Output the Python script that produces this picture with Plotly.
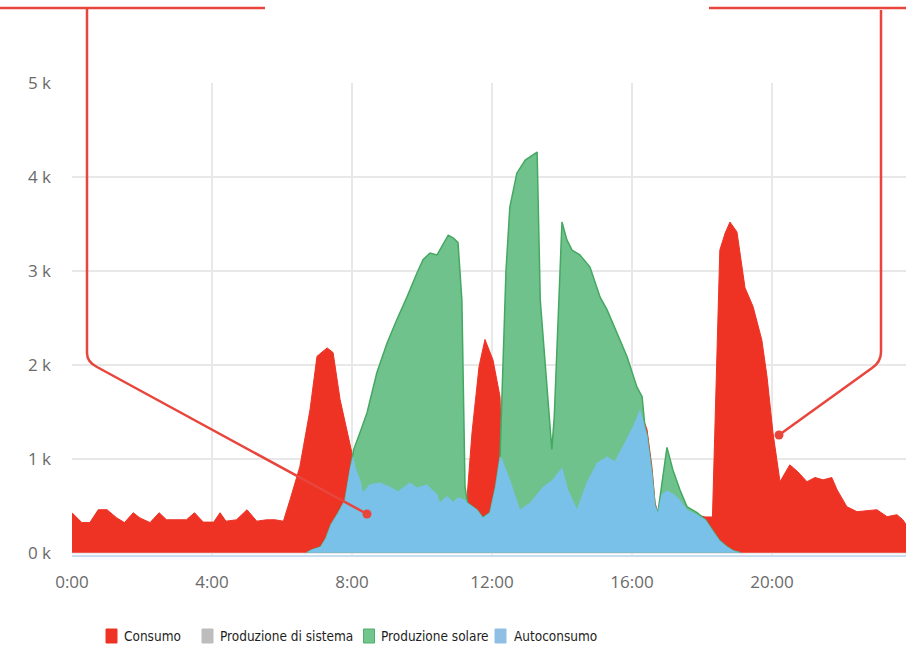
import plotly.graph_objects as go

# ---------------- data (hours of day, watts) ----------------
hour_ticks = [0, 4, 8, 12, 16, 20]
hour_labels = ["0:00", "4:00", "8:00", "12:00", "16:00", "20:00"]
power_ticks = [0, 1000, 2000, 3000, 4000, 5000]
power_labels = ["0 k", "1 k", "2 k", "3 k", "4 k", "5 k"]

series_names = ["Consumo", "Produzione di sistema", "Produzione solare", "Autoconsumo"]

consumo_h = [0.0, 0.28, 0.51, 0.75, 1.0, 1.28, 1.5, 1.75, 1.94, 2.23, 2.49, 2.7, 3.27, 3.5,
             3.75, 4.05, 4.23, 4.4, 4.7, 5.0, 5.28, 5.56, 5.8, 6.04, 6.23, 6.51, 6.8, 7.0,
             7.29, 7.46, 7.66, 7.86, 8.0, 8.1, 8.23, 8.31, 8.51, 8.8, 9.09, 9.31, 9.66, 9.86,
             10.14, 10.43, 10.51, 10.71, 10.89, 11.03, 11.23, 11.29, 11.43, 11.63, 11.8, 12.03,
             12.15, 12.23, 12.28, 12.51, 12.8, 13.09, 13.46, 13.74, 14.0, 14.17, 14.43, 14.71,
             15.0, 15.29, 15.51, 15.74, 16.03, 16.23, 16.43, 16.57, 16.66, 16.74, 16.85, 17.0,
             17.2, 17.37, 17.57, 17.86, 18.1, 18.3, 18.51, 18.66, 18.8, 19.0, 19.23, 19.46,
             19.71, 19.86, 20.03, 20.23, 20.51, 20.74, 21.0, 21.23, 21.46, 21.71, 21.86, 22.14,
             22.43, 23.0, 23.29, 23.57, 23.74, 23.83]
consumo_w = [425, 320, 320, 457, 457, 370, 320, 425, 370, 320, 425, 350, 350, 425,
             325, 325, 425, 335, 350, 457, 335, 350, 350, 335, 564, 915, 1520, 2090,
             2180, 2130, 1630, 1280, 1060, 900, 775, 640, 725, 745, 700, 650, 745, 690,
             725, 620, 530, 600, 540, 585, 564, 600, 1280, 1980, 2270, 2050,
             1800, 1660, 1000, 775, 457, 530, 700, 775, 905, 670, 457, 745,
             955, 1020, 970, 1130, 1340, 1520, 1310, 915, 530, 425, 620, 660,
             620, 560, 457, 400, 380, 380, 3220, 3400, 3520, 3415, 2820, 2620,
             2265, 1870, 1275, 755, 935, 860, 755, 800, 775, 800, 670, 490,
             436, 457, 383, 404, 350, 300]

sistema_h = [0.0, 23.83]
sistema_w = [0, 0]

solare_h = [6.7, 6.85, 7.1, 7.25, 7.4, 7.6, 7.8, 7.95, 8.05, 8.23, 8.43, 8.71, 9.0, 9.28,
            9.57, 9.86, 10.03, 10.23, 10.43, 10.75, 10.9, 11.03, 11.14, 11.23, 11.3, 11.57,
            11.74, 11.94, 12.1, 12.23, 12.3, 12.4, 12.51, 12.71, 12.95, 13.29, 13.38, 13.57,
            13.71, 13.78, 13.9, 14.0, 14.14, 14.29, 14.51, 14.8, 15.09, 15.29, 15.57, 15.86,
            16.14, 16.29, 16.37, 16.43, 16.57, 16.66, 16.74, 17.0, 17.17, 17.37, 17.57, 17.86,
            18.1, 18.31, 18.5, 18.71, 18.9, 19.1]
solare_w = [0, 30, 60, 150, 300, 420, 560, 900, 1100, 1280, 1490, 1915, 2230, 2480,
            2720, 2980, 3120, 3190, 3170, 3380, 3350, 3300, 2690, 700, 530, 457,
            372, 425, 700, 1020, 1800, 3000, 3680, 4040, 4180, 4265, 2690, 1810,
            1100, 1450, 2700, 3520, 3330, 3220, 3170, 3040, 2720, 2585, 2340, 2085,
            1765, 1660, 1340, 1250, 850, 500, 425, 1120, 880, 670, 490, 425,
            350, 230, 130, 64, 20, 0]

auto_h = [6.7, 6.85, 7.1, 7.25, 7.4, 7.6, 7.8, 7.95, 8.03, 8.1, 8.23, 8.31, 8.51, 8.8,
          9.09, 9.31, 9.66, 9.86, 10.14, 10.43, 10.51, 10.71, 10.89, 11.03, 11.23, 11.29,
          11.57, 11.74, 11.94, 12.1, 12.23, 12.28, 12.51, 12.8, 13.09, 13.46, 13.74, 14.0,
          14.17, 14.43, 14.71, 15.0, 15.29, 15.51, 15.74, 16.03, 16.23, 16.37, 16.43, 16.57,
          16.66, 16.74, 16.85, 17.0, 17.2, 17.37, 17.57, 17.86, 18.1, 18.31, 18.5, 18.71,
          18.9, 19.1]
auto_w = [0, 30, 60, 150, 300, 420, 560, 900, 1020, 900, 775, 640, 725, 745,
          700, 650, 745, 690, 725, 620, 530, 600, 540, 585, 564, 530,
          457, 372, 425, 700, 1020, 1000, 775, 457, 530, 700, 775, 905,
          670, 457, 745, 955, 1020, 970, 1130, 1340, 1520, 1340, 1250, 850,
          500, 425, 620, 660, 620, 560, 457, 400, 350, 230, 130, 64,
          20, 0]

# ---------------- styling ----------------
W, H = 906, 647
ML, MR, MT, MB = 72, 0, 83, 92
RED = "#ee3224"
GREY = "#bdbdbd"
GREEN_FILL = "#6fc28c"
GREEN_LINE = "#45a862"
BLUE = "#7ac1ea"
CALLOUT = "#e8463c"


def xp(px):
    return (px - ML) / (W - ML - MR)


def yp(py):
    return (H - MB - py) / (H - MT - MB)


fig = go.Figure()
fig.add_trace(go.Scatter(x=consumo_h, y=consumo_w, name=series_names[0], mode="lines",
                         fill="tozeroy", fillcolor=RED, line=dict(color=RED, width=1),
                         showlegend=False))
fig.add_trace(go.Scatter(x=sistema_h, y=sistema_w, name=series_names[1], mode="lines",
                         fill="tozeroy", fillcolor=GREY, line=dict(color=GREY, width=0),
                         showlegend=False))
fig.add_trace(go.Scatter(x=solare_h, y=solare_w, name=series_names[2], mode="lines",
                         fill="tozeroy", fillcolor=GREEN_FILL,
                         line=dict(color=GREEN_LINE, width=1.5), showlegend=False))
fig.add_trace(go.Scatter(x=auto_h, y=auto_w, name=series_names[3], mode="lines",
                         fill="tozeroy", fillcolor=BLUE, line=dict(color=BLUE, width=0.5),
                         showlegend=False))

shapes = []


def path(points):
    s = ""
    for i, p in enumerate(points):
        if p[0] == "Q":
            s += f" Q {xp(p[1])},{yp(p[2])} {xp(p[3])},{yp(p[4])}"
        else:
            cmd = "M" if i == 0 else "L"
            s += f" {cmd} {xp(p[0])},{yp(p[1])}"
    return s.strip()


line_style = dict(color=CALLOUT, width=2.5)
shapes.append(dict(type="path", xref="paper", yref="paper", line=line_style,
                   path=path([(0, 8), (265, 8)])))
shapes.append(dict(type="path", xref="paper", yref="paper", line=line_style,
                   path=path([(87, 8), (87, 353), ("Q", 87, 362, 97, 367), (367, 514)])))
shapes.append(dict(type="path", xref="paper", yref="paper", line=line_style,
                   path=path([(709, 8), (906, 8)])))
shapes.append(dict(type="path", xref="paper", yref="paper", line=line_style,
                   path=path([(881, 10), (881, 352), ("Q", 881, 362, 872, 368), (779, 435)])))
for cx, cy in [(367, 514), (779, 435)]:
    r = 4.5
    shapes.append(dict(type="circle", xref="paper", yref="paper",
                       x0=xp(cx - r), x1=xp(cx + r), y0=yp(cy + r), y1=yp(cy - r),
                       fillcolor=CALLOUT, line=dict(width=0)))

# manual legend (swatch + label)
legend_sw = [(106, RED, RED), (202, GREY, GREY), (363.5, "#72c58d", "#4fae69"), (495, "#8fbfe4", "#8fbfe4")]
legend_tx = [123, 219, 380, 513]
annotations = []
for (sx, fc, lc), tx, name in zip(legend_sw, legend_tx, series_names):
    shapes.append(dict(type="rect", xref="paper", yref="paper",
                       x0=xp(sx), x1=xp(sx + 11), y0=yp(643), y1=yp(629),
                       fillcolor=fc, line=dict(color=lc, width=1)))
    annotations.append(dict(text=name, xref="paper", yref="paper", x=xp(tx - 1), y=yp(636),
                            xanchor="left", yanchor="middle", showarrow=False,
                            font=dict(family="DejaVu Sans Condensed, Liberation Sans Narrow, sans-serif",
                                      size=13.5, color="#1e1e1e")))

tick_font = dict(family="Open Sans, Noto Sans, sans-serif", size=17, color="#6a6a6a")
fig.update_layout(
    width=W, height=H,
    margin=dict(l=ML, r=MR, t=MT, b=MB, pad=0),
    paper_bgcolor="white", plot_bgcolor="white",
    shapes=shapes, annotations=annotations,
    showlegend=False,
    xaxis=dict(range=[0, 23.83], tickvals=hour_ticks, ticktext=hour_labels,
               showgrid=True, gridcolor="#e8e8e8", gridwidth=1.5, zeroline=False,
               showline=True, linecolor="#c8dcee", linewidth=2, ticks="",
               ticklabelstandoff=11, tickfont=tick_font),
    yaxis=dict(range=[-25, 5000], tickvals=power_ticks, ticktext=power_labels,
               showgrid=True, gridcolor="#e8e8e8", gridwidth=1.5, zeroline=False,
               showline=False, ticks="", ticklabelstandoff=20, tickfont=tick_font),
)

fig.write_html("out.html", config={"displayModeBar": False},
               post_script="document.body.style.margin='0';")
